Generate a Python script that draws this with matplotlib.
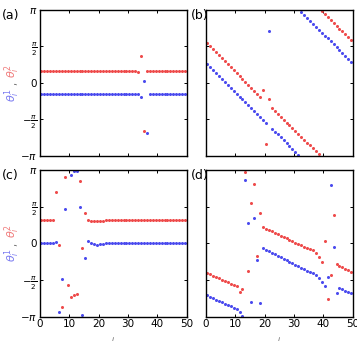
import numpy as np
import matplotlib
matplotlib.use("Agg")
import matplotlib.pyplot as plt

# oscillator index (plotted at bin centres)
idx = np.arange(1, 51) - 0.5

# panel (a)
a_red = [0.52]*33 + [0.45, 1.16, -2.08] + [0.52]*14
a_blue = [-0.48]*34 + [-0.61, 0.09, -2.18] + [-0.48]*13

# panel (b)
b_red = [1.70, 1.57, 1.45, 1.32, 1.19, 1.07, 0.94, 0.81, 0.68, 0.56,
         0.43, 0.30, 0.18, 0.05, -0.08, -0.21, -0.33, -0.46, -0.59, -0.31,
         -2.64, -0.71, -1.09, -1.21, -1.34, -1.46, -1.59, -1.71, -1.83, -1.96,
         -2.08, -2.21, -2.33, -2.45, -2.58, -2.70, -2.83, -2.95, -3.07, 3.08,
         2.96, 2.84, 2.71, 2.59, 2.46, 2.34, 2.22, 2.09, 1.97, 1.84]
b_blue = [0.80, 0.67, 0.55, 0.42, 0.30, 0.17, 0.04, -0.08, -0.21, -0.33,
          -0.46, -0.59, -0.71, -0.84, -0.96, -1.09, -1.22, -1.34, -1.47, -1.59,
          -1.72, 2.25, -1.97, -2.10, -2.22, -2.35, -2.48, -2.60, -2.73, -2.85,
          -2.98, -3.11, 3.05, 2.93, 2.80, 2.67, 2.55, 2.42, 2.30, 2.17,
          2.04, 1.92, 1.79, 1.67, 1.54, 1.41, 1.29, 1.16, 1.04, 0.91]

# panel (c)
c_red = [0.99]*5 + [2.20, -0.09, -2.74, 2.83, -1.77, -2.30, -2.21, -2.19, 2.66,
                    -0.21, 1.29, 0.99, 0.97, 0.95, 0.94, 0.95, 0.97] + [0.99]*28
c_blue = [0.0]*5 + [0.06, -2.93, -1.51, 1.47, np.nan, 2.91, 3.11, 3.11, 1.54,
                    -3.07, -0.64, 0.09, 0.02, -0.03, -0.05, -0.04, -0.02] + [0.0]*28

# panel (d)
d_red = [-1.26, -1.32, -1.38, -1.44, -1.49, -1.55, -1.61, -1.67, -1.72, -1.78,
         -1.84, -2.07, -1.94, 3.06, -1.19, 1.74, 2.54, -0.53, 1.30, 0.69,
         0.63, 0.57, 0.51, 0.45, 0.39, 0.33, 0.27, 0.21, 0.15, 0.09,
         0.03, -0.03, -0.09, -0.15, -0.21, -0.25, -0.30, -0.42, -0.60, -0.80,
         0.10, -2.37, -1.36, 1.22, -0.90, -0.96, -1.03, -1.09, -1.15, -1.21]
d_blue = [-2.23, -2.29, -2.35, -2.41, -2.47, -2.53, -2.58, -2.64, -2.70, -2.76,
          -2.82, -2.93, -3.12, 2.73, 0.87, -2.51, 1.07, -0.70, -2.57, -0.21,
          -0.27, -0.34, -0.40, -0.47, -0.53, -0.60, -0.66, -0.73, -0.79, -0.86,
          -0.92, -0.99, -1.05, -1.12, -1.18, -1.24, -1.29, -1.36, -1.50, -1.66,
          -1.82, -1.43, 2.52, -0.14, -2.14, -1.90, -1.96, -2.02, -2.08, -2.14]

panels = [("(a)", a_blue, a_red), ("(b)", b_blue, b_red),
          ("(c)", c_blue, c_red), ("(d)", d_blue, d_red)]

xticks = [0, 10, 20, 30, 40, 50]
yticks = [-np.pi, -np.pi/2, 0, np.pi/2, np.pi]
yticklabels = [r'$-\pi$', r'$-\frac{\pi}{2}$', '0', r'$\frac{\pi}{2}$', r'$\pi$']

RED = '#ee4a4a'
BLUE = '#4a4aee'

fig = plt.figure(figsize=(3.57, 3.41), dpi=100)
W, H = 357, 341
boxes = [(40, 10, 186.5, 155.7), (205.7, 10, 352.7, 155.7),
         (40, 170, 186.5, 316.7), (205.7, 170, 352.7, 316.7)]

for k, ((lab, blue, red), (x0, y0, x1, y1)) in enumerate(zip(panels, boxes)):
    ax = fig.add_axes([x0/W, 1 - y1/H, (x1-x0)/W, (y1-y0)/H])
    ax.plot(idx, red, 'o', color=RED, ms=2.2, mew=0, clip_on=True)
    ax.plot(idx, blue, 'o', color=BLUE, ms=2.2, mew=0, clip_on=True)
    ax.set_xlim(0, 50)
    ax.set_ylim(-np.pi, np.pi)
    ax.set_xticks(xticks)
    ax.set_yticks(yticks)
    ax.tick_params(direction='in', length=2.5, width=0.7, top=True, right=True,
                   labelsize=7.5, pad=2)
    for s in ax.spines.values():
        s.set_linewidth(1.0)
    if k % 2 == 0:
        ax.set_yticklabels(yticklabels)
    else:
        ax.set_yticklabels([])
    if k < 2:
        ax.set_xticklabels([])
    else:
        ax.set_xticklabels([str(t) for t in xticks])
        ax.text(0.5, -0.135, 'i', transform=ax.transAxes, ha='center', va='top',
                fontsize=5, style='italic', color='#555555')
    fig.text((x0 - 38) / W if k % 2 == 0 else (x0 - 15) / W, 1 - (y0 + 6) / H,
             lab, fontsize=9, ha='left', va='center')
    if k % 2 == 0:
        ymid = (y0 + y1) / 2
        fig.text(12/W, 1 - (ymid + 12)/H, r'$\theta_i^1$', color='#7a7af0',
                 rotation=90, fontsize=8, ha='center', va='center')
        fig.text(13/W, 1 - (ymid + 1)/H, ',', color='#666666',
                 rotation=90, fontsize=7, ha='center', va='center')
        fig.text(12/W, 1 - (ymid - 12)/H, r'$\theta_i^2$', color='#f07a7a',
                 rotation=90, fontsize=8, ha='center', va='center')

fig.savefig('out.png', dpi=100)
